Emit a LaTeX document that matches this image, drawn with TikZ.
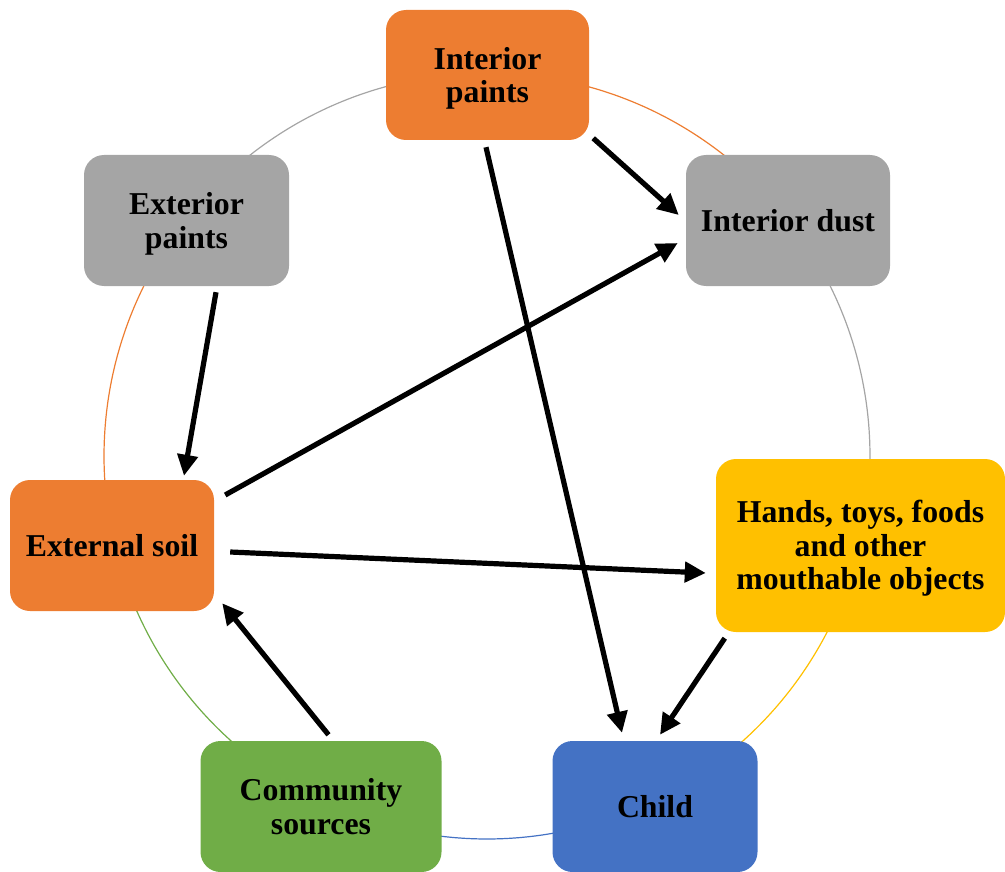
\documentclass[tikz,border=0pt]{standalone}
\usepackage{fontspec}
\setmainfont{Liberation Serif}
\usetikzlibrary{arrows.meta,calc}

\definecolor{cOrange}{HTML}{ED7D31}
\definecolor{cGray}{HTML}{A5A5A5}
\definecolor{cYellow}{HTML}{FFC000}
\definecolor{cBlue}{HTML}{4472C4}
\definecolor{cGreen}{HTML}{70AD47}

\tikzset{
  box/.style={rounded corners=20pt, inner sep=0pt, align=center,
    font=\fontsize{31.8}{33.5}\selectfont\bfseries, text=black},
  % centre multi-line labels on their letters, ignoring a last-line descender
  flat/.style={text depth=0.5pt},
  ring/.style={line width=1.2pt},
  flow/.style={line width=5.2pt, black,
    -{Triangle[length=21pt,width=20pt]}},
}

\begin{document}
\begin{tikzpicture}[x=1pt,y=-1pt]
\useasboundingbox (0,0) rectangle (1005,872);

% cycle ring behind the boxes, one arc per step, coloured by its start box
\coordinate (O) at (487,456);
\foreach \a/\b/\c in {90/38.571/cOrange, 38.571/-12.857/cGray,
    -12.857/-64.286/cYellow, -64.286/-115.714/cBlue,
    -115.714/-167.143/cGreen, 192.857/141.429/cOrange, 141.429/90/cGray}{
  \draw[ring,\c] plot[domain=\a:\b, samples=80, smooth]
    ({487+383*cos(\x)},{456-383*sin(\x)});
}

% boxes
\node[box, flat, fill=cOrange, minimum width=203pt, minimum height=130pt] (ip) at (487.5,75) {Interior\\paints};
\node[box, fill=cGray,   minimum width=204pt, minimum height=131pt] (id) at (788,220.5) {Interior dust};
\node[box, flat, fill=cYellow, minimum width=289pt, minimum height=173pt] (ha) at (860.5,545.5) {Hands, toys, foods\\and other\\mouthable objects};
\node[box, fill=cBlue,   minimum width=205pt, minimum height=131pt] (ch) at (655,806.5) {Child};
\node[box, fill=cGreen,  minimum width=241pt, minimum height=131pt] (cs) at (321,806.5) {Community\\sources};
\node[box, fill=cOrange, minimum width=204pt, minimum height=131pt] (es) at (112,545.5) {External soil};
\node[box, flat, fill=cGray,   minimum width=205pt, minimum height=131pt] (ep) at (186.5,220.5) {Exterior\\paints};

% pathways
\draw[flow] ($(ip.south)+(-1.5,7)$) -- ($(ch.north)+(-33,-8)$);
\draw[flow] ($(ip.south east)+(4,-2)$) -- ($(id.west)+(-7,-5.5)$);
\draw[flow] ($(ep.south)+(29.5,6)$) -- ($(es.north)+(72,-4)$);
\draw[flow] ($(es.east)+(11,-50.5)$) -- ($(id.west)+(-8,22.5)$);
\draw[flow] ($(es.east)+(16,6.5)$) -- ($(ha.west)+(-10,27.5)$);
\draw[flow] ($(ha.south west)+(9,6)$) -- ($(ch.north)+(5,-6)$);
\draw[flow] ($(cs.north)+(7.5,-6)$) -- ($(es.south east)+(8,-8)$);
\end{tikzpicture}
\end{document}
